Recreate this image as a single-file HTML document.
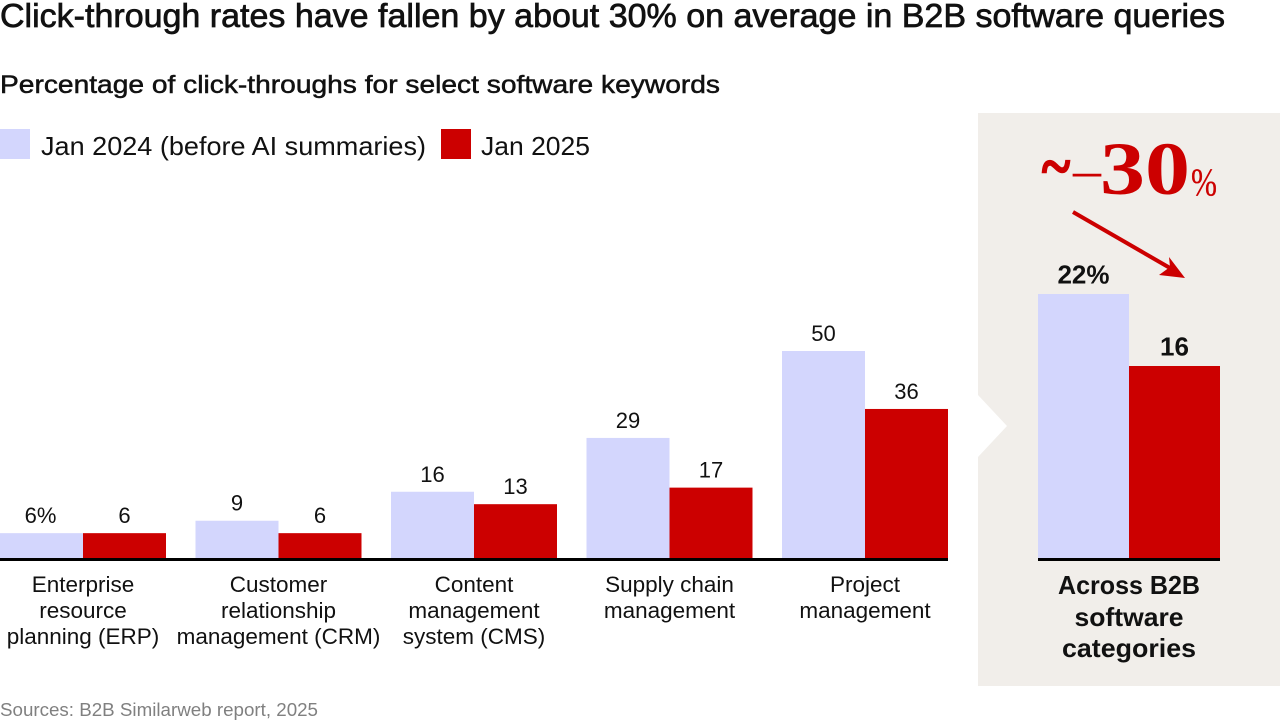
<!DOCTYPE html>
<html lang="en">
<head>
<meta charset="utf-8">
<title>Click-through rates chart</title>
<style>
html,body{margin:0;padding:0;background:#fff;width:1280px;height:720px;overflow:hidden}
svg{display:block}
text{font-family:"Liberation Sans",sans-serif;fill:#111}
</style>
</head>
<body>
<svg id="chart" width="1280" height="720" viewBox="0 0 1280 720" xmlns="http://www.w3.org/2000/svg">
  <text x="0" y="27" font-size="33" stroke="#111" stroke-width="0.7" textLength="1225" lengthAdjust="spacingAndGlyphs">Click-through rates have fallen by about 30% on average in B2B software queries</text>
  <text x="0" y="93" font-size="25" stroke="#111" stroke-width="0.5" textLength="720" lengthAdjust="spacingAndGlyphs">Percentage of click-throughs for select software keywords</text>

  <g>
    <rect x="0" y="129" width="30" height="30" fill="#d3d6fd"/>
    <text x="41" y="155" font-size="26" textLength="385" lengthAdjust="spacingAndGlyphs">Jan 2024 (before AI summaries)</text>
    <rect x="441" y="129" width="30" height="30" fill="#cc0000"/>
    <text x="481" y="155" font-size="26" textLength="109" lengthAdjust="spacingAndGlyphs">Jan 2025</text>
  </g>

  <polygon points="978,113 1280,113 1280,686 978,686 978,457 1007,426 978,395" fill="#f1eeea"/>

  <g id="main-bars"></g>
  <rect x="0" y="558" width="948" height="3" fill="#000"/>
  <g id="main-labels"></g>

  <g id="inset-bars"></g>
  <rect x="1038" y="558" width="182" height="3" fill="#000"/>

  <g>
    <text x="1042" y="187" font-size="62" font-weight="bold" stroke="#cc0000" stroke-width="1.6" textLength="28" lengthAdjust="spacingAndGlyphs" style="font-family:'Liberation Serif',serif;fill:#cc0000">~</text>
    <text x="1073" y="188" font-size="54" textLength="28" lengthAdjust="spacingAndGlyphs" style="font-family:'Liberation Serif',serif;fill:#cc0000">–</text>
    <text x="1100" y="194" font-size="75" font-weight="bold" textLength="90" lengthAdjust="spacingAndGlyphs" style="font-family:'Liberation Serif',serif;fill:#cc0000">30</text>
    <text x="1191" y="195" font-size="39" stroke="#cc0000" stroke-width="0.3" textLength="26" lengthAdjust="spacingAndGlyphs" style="font-family:'Liberation Serif',serif;fill:#cc0000">%</text>
    <line x1="1073" y1="212" x2="1170" y2="268" stroke="#cc0000" stroke-width="4"/>
    <polygon points="1185,278 1159,275 1170,267 1169,257" fill="#cc0000"/>
  </g>

  <g font-size="26" font-weight="bold" text-anchor="middle">
    <text x="1129" y="594" textLength="142" lengthAdjust="spacingAndGlyphs">Across B2B</text>
    <text x="1129" y="626" textLength="109" lengthAdjust="spacingAndGlyphs">software</text>
    <text x="1129" y="657" textLength="134" lengthAdjust="spacingAndGlyphs">categories</text>
  </g>

  <text x="0" y="716" font-size="18" textLength="318" lengthAdjust="spacingAndGlyphs" style="fill:#808080">Sources: B2B Similarweb report, 2025</text>
</svg>
<script>
const categories = [
  ["Enterprise", "resource", "planning (ERP)"],
  ["Customer", "relationship", "management (CRM)"],
  ["Content", "management", "system (CMS)"],
  ["Supply chain", "management"],
  ["Project", "management"]
];
const jan2024 = [6, 9, 16, 29, 50];
const jan2025 = [6, 6, 13, 17, 36];
const jan2024Labels = ["6%", "9", "16", "29", "50"];
const jan2025Labels = ["6", "6", "13", "17", "36"];
const summaryBefore = [22];
const summaryAfter = [16];
const summaryBeforeLabels = ["22%"];
const summaryAfterLabels = ["16"];

const NS = "http://www.w3.org/2000/svg";
const BASE = 558;
const yMain = v => BASE - v * 4.14;
const xGroup = i => i * 195.5;
const yInset = v => BASE - v * 12;
const BAR_W = 83;
const INSET_X = 1038;
const INSET_W = 91;
const LILAC = "#d3d6fd";
const RED = "#cc0000";

const mainBars = document.getElementById("main-bars");
const mainLabels = document.getElementById("main-labels");
const insetBars = document.getElementById("inset-bars");

function makeRect(parent, x, top, w, fill) {
  const r = document.createElementNS(NS, "rect");
  r.setAttribute("x", x);
  r.setAttribute("y", top);
  r.setAttribute("width", w);
  r.setAttribute("height", Math.max(0, BASE - top));
  r.setAttribute("fill", fill);
  parent.appendChild(r);
  return r;
}
function makeText(parent, x, y, str, size, bold, anchor) {
  const t = document.createElementNS(NS, "text");
  t.setAttribute("x", x);
  t.setAttribute("y", y);
  t.setAttribute("font-size", size);
  t.setAttribute("text-anchor", anchor || "middle");
  if (bold) t.setAttribute("font-weight", "bold");
  t.textContent = str;
  parent.appendChild(t);
  return t;
}

categories.forEach((lines, i) => {
  const gx = xGroup(i);

  const barA = makeRect(mainBars, gx, yMain(jan2024[i]), BAR_W, LILAC);
  
  

  const barB = makeRect(mainBars, gx + BAR_W, yMain(jan2025[i]), BAR_W, RED);
  
  

  const valA = makeText(mainLabels, gx + BAR_W / 2 - (i === 0 ? 1 : 0), yMain(jan2024[i]) - 10, jan2024Labels[i], 22);
  
  

  const valB = makeText(mainLabels, gx + BAR_W * 1.5, yMain(jan2025[i]) - 10, jan2025Labels[i], 22);
  
  

  lines.forEach((line, j) => {
    const c = makeText(mainLabels, gx + BAR_W, 592 + j * 26, line, 22.5);
    
    
  });
});

const insetA = makeRect(insetBars, INSET_X, yInset(summaryBefore[0]), INSET_W, LILAC);



const insetB = makeRect(insetBars, INSET_X + INSET_W, yInset(summaryAfter[0]), INSET_W, RED);



const insetLabelA = makeText(insetBars, INSET_X + INSET_W / 2, yInset(summaryBefore[0]) - 10.5, summaryBeforeLabels[0], 26, true);



const insetLabelB = makeText(insetBars, INSET_X + INSET_W * 1.5, yInset(summaryAfter[0]) - 10.5, summaryAfterLabels[0], 26, true);


</script>
</body>
</html>
